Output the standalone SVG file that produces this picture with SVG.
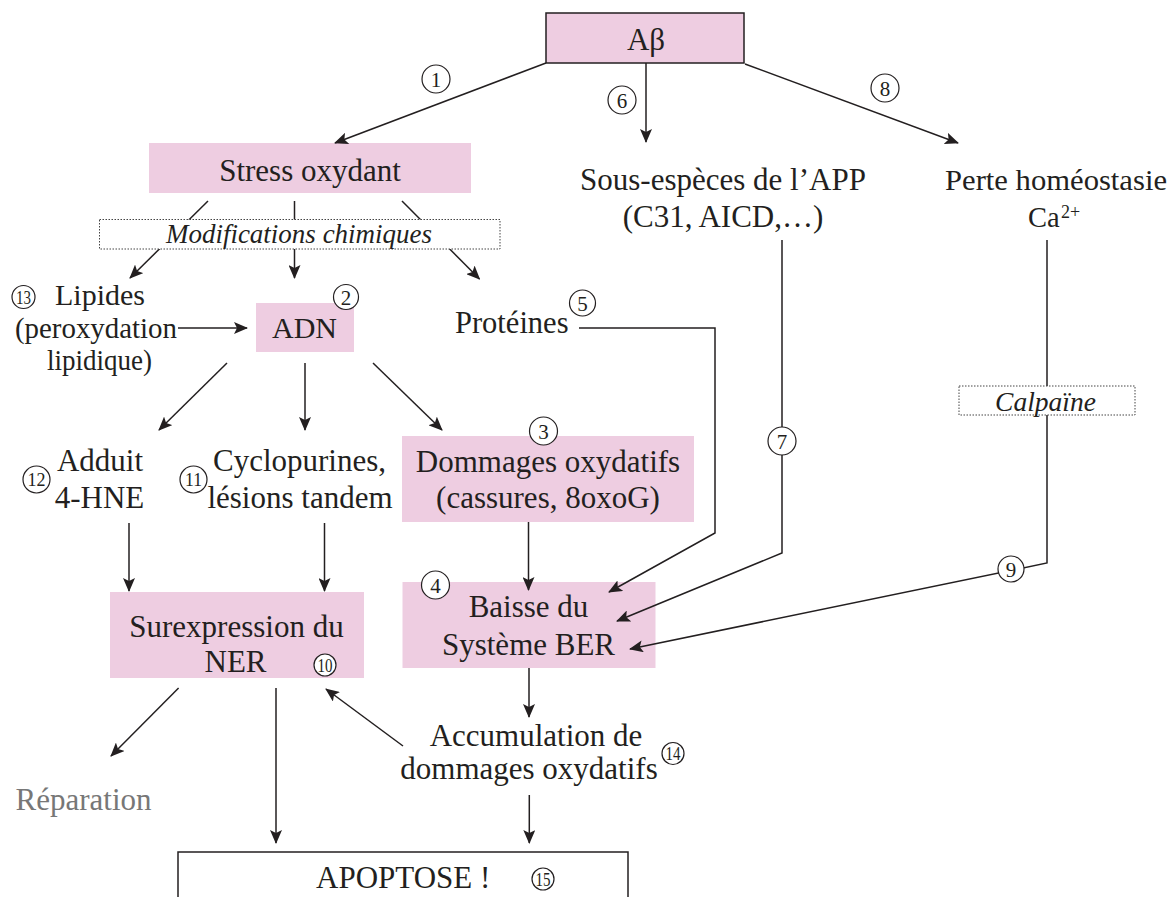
<svg xmlns="http://www.w3.org/2000/svg" width="1169" height="897" viewBox="0 0 1169 897">
<defs>
<marker id="ah" markerUnits="userSpaceOnUse" markerWidth="14" markerHeight="12" viewBox="0 0 14 12" refX="13" refY="6" orient="auto">
<path d="M0,0 L14,6 L0,12 L3,6 Z" fill="#231F20"/>
</marker>
<style>
.t{font-family:"Liberation Serif","Times New Roman",serif;font-size:31px;fill:#231F20}
.m{text-anchor:middle}
.i{font-style:italic;font-size:27px}
.n{font-family:"Liberation Serif","Times New Roman",serif;font-size:21px;fill:#231F20;text-anchor:middle}
.n2{font-size:18px}
.pk{fill:#EECDE1}
.c{fill:#fff;stroke:#231F20;stroke-width:1.2}
.ar{fill:none;stroke:#231F20;stroke-width:1.5;marker-end:url(#ah)}
.dot{fill:#fff;stroke:#444;stroke-width:1;stroke-dasharray:1.5 1.5}
</style>
</defs>

<g id="n-abeta">
<rect x="546" y="13" width="198" height="50" class="pk" stroke="#231F20" stroke-width="1.5"/>
<text class="t m" x="646" y="50">Aβ</text>
</g>
<g id="n-stress">
<rect x="149" y="143" width="322" height="50" class="pk"/>
<text class="t m" x="310" y="181">Stress oxydant</text>
</g>
<g id="n-app">
<text class="t m" x="723" y="190">Sous-espèces de l’APP</text>
<text class="t m" x="723" y="227">(C31, AICD,…)</text>
</g>
<g id="n-ca">
<text class="t" x="945" y="190" style="font-size:28.5px" textLength="222" lengthAdjust="spacingAndGlyphs">Perte homéostasie</text>
<text class="t" x="1028" y="227" style="font-size:28.5px">Ca</text>
<text class="t" x="1061" y="218" style="font-size:18px">2+</text>
</g>
<g id="n-lipides">
<text class="t" x="55" y="305" style="font-size:30px">Lipides</text>
<text class="t" x="15" y="338" style="font-size:28.5px" textLength="162" lengthAdjust="spacingAndGlyphs">(peroxydation</text>
<text class="t" x="47" y="370" style="font-size:28.5px" textLength="105" lengthAdjust="spacingAndGlyphs">lipidique)</text>
</g>
<g id="n-adn">
<rect x="256" y="303" width="98" height="49" class="pk"/>
<text class="t m" x="304.5" y="338" style="font-size:30px">ADN</text>
</g>
<g id="n-proteines">
<text class="t" x="455" y="333" style="font-size:30.5px">Protéines</text>
</g>
<g id="n-adduit">
<text class="t m" x="100" y="471">Adduit</text>
<text class="t m" x="99.5" y="508">4-HNE</text>
</g>
<g id="n-cyclo">
<text class="t m" x="299.5" y="471">Cyclopurines,</text>
<text class="t m" x="300" y="508">lésions tandem</text>
</g>
<g id="n-dommages">
<rect x="402" y="436" width="292" height="86" class="pk"/>
<text class="t m" x="548" y="471.5">Dommages oxydatifs</text>
<text class="t m" x="548" y="508">(cassures, 8oxoG)</text>
</g>
<g id="n-ber">
<rect x="402.5" y="582" width="253" height="86" class="pk"/>
<text class="t m" x="528.5" y="617">Baisse du</text>
<text class="t m" x="528.5" y="655">Système BER</text>
</g>
<g id="n-ner">
<rect x="110" y="592" width="254" height="86" class="pk"/>
<text class="t m" x="236.5" y="637">Surexpression du</text>
<text class="t m" x="235.5" y="672">NER</text>
</g>
<g id="n-reparation">
<text class="t" x="15.5" y="810" style="fill:#777">Réparation</text>
</g>
<g id="n-accum">
<text class="t m" x="536" y="746">Accumulation de</text>
<text class="t m" x="529" y="779">dommages oxydatifs</text>
</g>
<g id="n-apoptose">
<rect x="178" y="852" width="450" height="60" fill="#fff" stroke="#231F20" stroke-width="1.5"/>
<text class="t" x="316" y="888">APOPTOSE !</text>
</g>

<g id="connectors">
<line class="ar" x1="546" y1="63" x2="335" y2="143"/>
<line class="ar" x1="646" y1="63" x2="646" y2="142"/>
<line class="ar" x1="745" y1="64" x2="958" y2="143"/>
<line class="ar" x1="208" y1="201" x2="130" y2="278"/>
<line class="ar" x1="294.5" y1="201" x2="294.5" y2="278"/>
<line class="ar" x1="402" y1="201" x2="479.5" y2="279"/>
<line class="ar" x1="178" y1="328" x2="247" y2="328"/>
<line class="ar" x1="227" y1="363" x2="159" y2="430"/>
<line class="ar" x1="305" y1="363" x2="305" y2="430"/>
<line class="ar" x1="373" y1="363" x2="442" y2="430"/>
<polyline class="ar" points="579,328 715,328 715,533 609,592"/>
<polyline class="ar" points="782,240 782,553 617,621"/>
<polyline class="ar" points="1047,240 1047,563 630,649"/>
<line class="ar" x1="528.5" y1="522" x2="528.5" y2="590"/>
<line class="ar" x1="129" y1="523" x2="129" y2="591"/>
<line class="ar" x1="324.5" y1="523" x2="324.5" y2="591"/>
<line class="ar" x1="529" y1="668" x2="529" y2="717"/>
<line class="ar" x1="178.6" y1="688" x2="111" y2="756"/>
<line class="ar" x1="276" y1="688" x2="276" y2="843"/>
<line class="ar" x1="403" y1="746" x2="326" y2="689"/>
<line class="ar" x1="529.3" y1="795" x2="529.3" y2="843"/>
</g>

<g id="n-modif">
<rect x="99.5" y="219.5" width="400.5" height="29.5" class="dot"/>
<text class="t m i" x="299" y="243">Modifications chimiques</text>
</g>
<g id="n-calpaine">
<rect x="959" y="386" width="176" height="29" class="dot"/>
<text class="t m i" x="1045.5" y="411" style="font-size:27.5px">Calpaïne</text>
</g>

<g id="numbers">
<circle class="c" cx="436" cy="79" r="14"/><text class="n" x="436" y="86.5">1</text>
<circle class="c" cx="622" cy="100" r="14"/><text class="n" x="622" y="107.5">6</text>
<circle class="c" cx="885" cy="88" r="14"/><text class="n" x="885" y="95.5">8</text>
<circle class="c" cx="23.5" cy="297" r="11.5"/><text class="n n2" x="23.5" y="303.5" textLength="15" lengthAdjust="spacingAndGlyphs">13</text>
<circle class="c" cx="346" cy="297" r="12.5"/><text class="n" x="346" y="304.5">2</text>
<circle class="c" cx="582.5" cy="303" r="13"/><text class="n" x="582.5" y="310.5">5</text>
<circle class="c" cx="543.5" cy="431" r="14"/><text class="n" x="543.5" y="438.5">3</text>
<circle class="c" cx="36.5" cy="479.5" r="13.5"/><text class="n n2" x="36.5" y="486" textLength="18" lengthAdjust="spacingAndGlyphs">12</text>
<circle class="c" cx="193.5" cy="479.5" r="13.5"/><text class="n n2" x="193.5" y="486" textLength="17" lengthAdjust="spacingAndGlyphs">11</text>
<circle class="c" cx="782" cy="441" r="14"/><text class="n" x="782" y="448.5">7</text>
<circle class="c" cx="1011" cy="569" r="13"/><text class="n" x="1011" y="576.5">9</text>
<circle class="c" cx="435.5" cy="585" r="14"/><text class="n" x="435.5" y="592.5">4</text>
<circle class="c" cx="325" cy="665" r="11"/><text class="n n2" x="325" y="671.5" textLength="15" lengthAdjust="spacingAndGlyphs">10</text>
<circle class="c" cx="673" cy="753.5" r="11"/><text class="n n2" x="673" y="760" textLength="15" lengthAdjust="spacingAndGlyphs">14</text>
<circle class="c" cx="543" cy="879" r="11"/><text class="n n2" x="543" y="885.5" textLength="15" lengthAdjust="spacingAndGlyphs">15</text>
</g>
</svg>
